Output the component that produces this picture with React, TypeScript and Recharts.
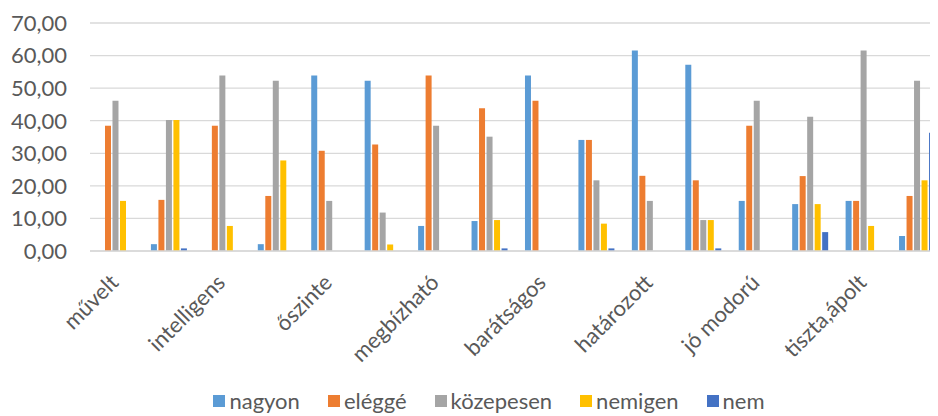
import React from "react";
import { BarChart, Bar, XAxis, YAxis, CartesianGrid, Legend } from "recharts";

const CATEGORIES = [
  "művelt", "", "intelligens", "", "őszinte", "", "megbízható", "",
  "barátságos", "", "határozott", "", "jó modorú", "", "tiszta,ápolt", "",
];
const NAGYON = [0, 2.1, 0, 2.1, 53.85, 52.3, 7.69, 9.2, 53.85, 34.1, 61.54, 57.2, 15.38, 14.4, 15.38, 4.6];
const ELEGGE = [38.46, 15.7, 38.46, 16.9, 30.77, 32.7, 53.85, 43.8, 46.15, 34.1, 23.08, 21.7, 38.46, 23.0, 15.38, 16.9];
const KOZEPESEN = [46.15, 40.2, 53.85, 52.3, 15.38, 11.8, 38.46, 35.1, 0, 21.7, 15.38, 9.5, 46.15, 41.2, 61.54, 52.3];
const NEMIGEN = [15.38, 40.2, 7.69, 27.8, 0, 2.0, 0, 9.5, 0, 8.4, 0, 9.5, 0, 14.4, 7.69, 21.7];
const NEM = [0, 0.8, 0, 0, 0, 0, 0, 0.8, 0, 0.8, 0, 0.8, 0, 5.8, 0, 36.3];
const Y_TICKS = [0, 10, 20, 30, 40, 50, 60, 70];

const SERIES = [
  { key: "nagyon", color: "#5B9BD5", values: NAGYON },
  { key: "eléggé", color: "#ED7D31", values: ELEGGE },
  { key: "közepesen", color: "#A5A5A5", values: KOZEPESEN },
  { key: "nemigen", color: "#FFC000", values: NEMIGEN },
  { key: "nem", color: "#4472C4", values: NEM },
];

const data = CATEGORIES.map((name, i) => {
  const row: Record<string, string | number> = { name };
  SERIES.forEach((s) => (row[s.key] = s.values[i]));
  return row;
});

const FONT = "Lato, 'Open Sans', sans-serif";
const TEXT = "#595959";

// only every other group carries a label, like in the source chart
function CategoryTick({ x, y, payload }: any) {
  if (!payload.value) return null;
  return (
    <text
      transform={`translate(${x + 3},${y + 33}) rotate(-45)`}
      textAnchor="end"
      fill={TEXT}
      fontSize={22}
      fontFamily={FONT}
    >
      {payload.value}
    </text>
  );
}

function LegendContent() {
  return (
    <div
      style={{
        display: "flex",
        justifyContent: "center",
        paddingLeft: 25,
        paddingTop: 4,
        fontFamily: FONT,
        fontSize: 22,
        lineHeight: "22px",
        color: TEXT,
      }}
    >
      {SERIES.map((s, i) => (
        <div
          key={s.key}
          style={{ display: "flex", alignItems: "center", marginRight: i < SERIES.length - 1 ? 28 : 0 }}
        >
          <span style={{ width: 12, height: 12, background: s.color, marginRight: 4 }} />
          <span>{s.key}</span>
        </div>
      ))}
    </div>
  );
}

export default function App() {
  return (
    <div style={{ width: 930, height: 408, overflow: "hidden" }}>
      <BarChart
        width={945}
        height={408}
        data={data}
        margin={{ top: 15, right: 8, left: 0, bottom: 0 }}
        barCategoryGap="14%"
        barGap={1.5}
      >
        <CartesianGrid vertical={false} stroke="#D9D9D9" strokeWidth={1.3} />
        <XAxis
          dataKey="name"
          interval={0}
          tickLine={false}
          tickSize={0}
          tickMargin={0}
          axisLine={{ stroke: "#D9D9D9", strokeWidth: 1.3 }}
          tick={<CategoryTick />}
          height={135}
        />
        <YAxis
          width={82}
          domain={[0, 70]}
          ticks={Y_TICKS}
          axisLine={false}
          tickLine={false}
          tickSize={0}
          tickMargin={23}
          tickFormatter={(v: number) => v.toFixed(2).replace(".", ",")}
          tick={{ fill: TEXT, fontSize: 22, fontFamily: FONT }}
        />
        <Legend verticalAlign="bottom" height={30} content={<LegendContent />} />
        {SERIES.map((s) => (
          <Bar key={s.key} dataKey={s.key} fill={s.color} isAnimationActive={false} />
        ))}
      </BarChart>
    </div>
  );
}
